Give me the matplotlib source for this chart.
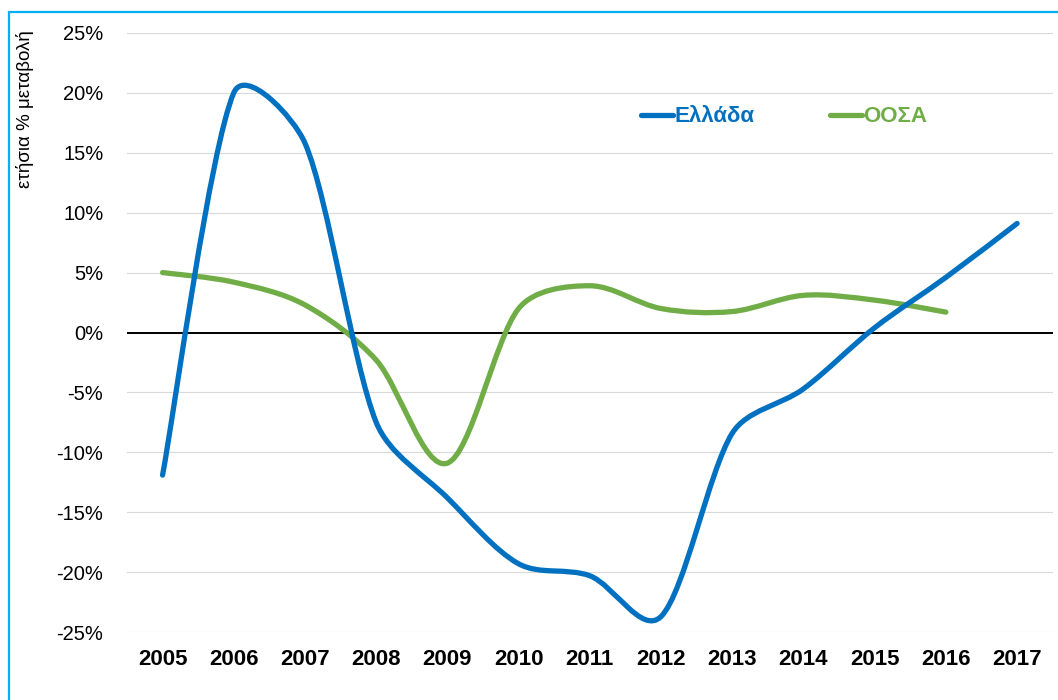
import numpy as np
import matplotlib
matplotlib.use("Agg")
import matplotlib.pyplot as plt
from matplotlib.path import Path
from matplotlib.patches import PathPatch, Rectangle
from matplotlib.lines import Line2D
from matplotlib.ticker import FuncFormatter

# ── data (annual % change) ─────────────────────────────────────────
years = ['2005', '2006', '2007', '2008', '2009', '2010', '2011',
         '2012', '2013', '2014', '2015', '2016', '2017']
greece = [-11.9, 20.0, 15.8, -7.5, -13.8, -19.3, -20.3,
          -23.7, -8.4, -4.7, 0.4, 4.6, 9.1]
oecd = [5.0, 4.2, 2.3, -2.3, -10.9, 2.0, 3.9,
        2.0, 1.75, 3.1, 2.7, 1.7]

label_gr = 'Ελλάδα'
label_oecd = 'ΟΟΣΑ'
ylabel = 'ετήσια % μεταβολή'

BLUE = '#0070C0'
GREEN = '#70AD47'

plt.rcParams['font.family'] = ['Liberation Sans', 'DejaVu Sans']


def smooth_path(ax, xs, ys, tension=1 / 6, k_max=1 / 3):
    """Excel-like smoothed line: cubic Bezier through every point.

    Catmull-Rom tangents in screen space; each control arm is capped
    at k_max of the segment length so peaks don't overshoot.
    """
    pts = ax.transData.transform(np.column_stack([xs, ys]).astype(float))
    n = len(pts)

    def arm(v, seg):
        d = np.hypot(*v)
        lim = k_max * seg
        return v * (lim / d) if d > lim else v

    verts = [pts[0]]
    codes = [Path.MOVETO]
    for i in range(n - 1):
        p0 = pts[max(i - 1, 0)]
        p1 = pts[i]
        p2 = pts[i + 1]
        p3 = pts[min(i + 2, n - 1)]
        seg = np.hypot(*(p2 - p1))
        c1 = p1 + arm((p2 - p0) * tension, seg)
        c2 = p2 - arm((p3 - p1) * tension, seg)
        verts += [c1, c2, p2]
        codes += [Path.CURVE4] * 3
    verts = ax.transData.inverted().transform(np.array(verts))
    return Path(verts, codes)


fig = plt.figure(figsize=(10.58, 7.0), dpi=100)
ax = fig.add_axes([0.120, 0.097, 0.875, 0.856])

ax.set_xlim(-0.5, len(years) - 0.5)
ax.set_ylim(-25, 25)

x_gr = np.arange(len(greece))
x_oecd = np.arange(len(oecd))

for xs, ys, col in [(x_oecd, oecd, GREEN), (x_gr, greece, BLUE)]:
    patch = PathPatch(smooth_path(ax, xs, ys), facecolor='none',
                      edgecolor=col, linewidth=3.8, capstyle='round',
                      joinstyle='round', zorder=3)
    ax.add_patch(patch)

ax.set_yticks(np.arange(-25, 26, 5))
ax.yaxis.set_major_formatter(FuncFormatter(lambda v, p: f"{v:.0f}%"))
ax.set_xticks(np.arange(len(years)))
ax.set_xticklabels(years, fontsize=16, fontweight='bold')
ax.tick_params(axis='both', length=0)
ax.tick_params(axis='y', labelsize=14.5, pad=17)
ax.tick_params(axis='x', pad=12)

ax.grid(axis='y', color='#D9D9D9', linewidth=0.8, zorder=0)
ax.set_axisbelow(True)
ax.axhline(0, color='black', linewidth=1.4, zorder=2)
for s in ax.spines.values():
    s.set_visible(False)

fig.text(0.024, 0.957, ylabel, rotation=90, ha='center', va='top',
         fontsize=13.5)

handles = [Line2D([], [], color=BLUE, linewidth=3.8, solid_capstyle='round'),
           Line2D([], [], color=GREEN, linewidth=3.8, solid_capstyle='round')]
leg = fig.legend(handles, [label_gr, label_oecd], loc='center',
                 bbox_to_anchor=(0.741, 0.833), ncol=2, frameon=False,
                 handlelength=1.45, handletextpad=0.05, columnspacing=3.4,
                 prop={'size': 16, 'weight': 'bold'}, labelcolor='linecolor')

# light-blue frame around the chart
fig.patches.append(Rectangle((9 / 1058, -0.05), 1.2, 1 - 12 / 700 + 0.05,
                             transform=fig.transFigure, fill=False,
                             edgecolor='#00B0F0', linewidth=1.6))

fig.savefig('out.png', dpi=100)
